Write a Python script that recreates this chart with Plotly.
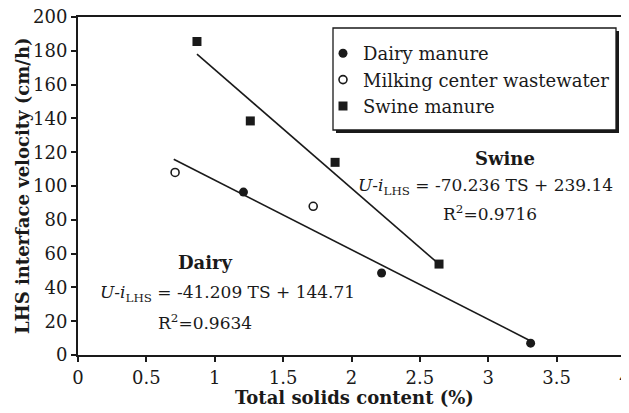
import plotly.graph_objects as go

# Data
dairy_x = [1.21, 2.22, 3.31]
dairy_y = [96.4, 48.5, 7.0]
milking_x = [0.71, 1.72]
milking_y = [108.0, 88.0]
swine_x = [0.87, 1.26, 1.88, 2.64]
swine_y = [185.5, 138.5, 114.0, 53.8]

dairy_fit_x = [0.70, 3.31]
dairy_slope, dairy_int = -41.209, 144.71
swine_fit_x = [0.87, 2.64]
swine_slope, swine_int = -70.236, 239.14

x_ticks = [0, 0.5, 1, 1.5, 2, 2.5, 3, 3.5, 4]
x_labels = ["0", "0.5", "1", "1.5", "2", "2.5", "3", "3.5", "4"]
y_ticks = [0, 20, 40, 60, 80, 100, 120, 140, 160, 180, 200]

FONT = "DejaVu Serif, serif"
INK = "#1a1a1a"
fig = go.Figure()

fig.add_trace(go.Scatter(x=dairy_fit_x, y=[dairy_slope * v + dairy_int for v in dairy_fit_x],
                         mode="lines", line=dict(color=INK, width=1.6), showlegend=False))
fig.add_trace(go.Scatter(x=swine_fit_x, y=[swine_slope * v + swine_int for v in swine_fit_x],
                         mode="lines", line=dict(color=INK, width=1.6), showlegend=False))

fig.add_trace(go.Scatter(x=dairy_x, y=dairy_y, mode="markers", name="Dairy manure",
                         marker=dict(symbol="circle", size=9, color=INK)))
fig.add_trace(go.Scatter(x=milking_x, y=milking_y, mode="markers", name="Milking center wastewater",
                         marker=dict(symbol="circle-open", size=8, color=INK, line=dict(width=1.6))))
fig.add_trace(go.Scatter(x=swine_x, y=swine_y, mode="markers", name="Swine manure",
                         marker=dict(symbol="square", size=9, color=INK)))

# page has an 8px body margin: figure is drawn at (8,8); work in page pixels
OFF = 8
L, R, T, B = 78, 625, 17, 355

def px(xp):
    return (xp - L) / (R - L)
def py(yp):
    return (B - yp) / (B - T)

ann_font = dict(family=FONT, size=17, color=INK)
bold_font = dict(family=FONT, size=18, color=INK)
annotations = [
    dict(x=3.12, y=116.5, text="<b>Swine</b>", font=bold_font),
    dict(x=2.98, y=99.5, text="<i>U</i>-<i>i</i><sub>LHS</sub> = -70.236 TS + 239.14", font=ann_font),
    dict(x=3.01, y=84, text="R<sup>2</sup>=0.9716", font=ann_font),
    dict(x=0.93, y=55, text="<b>Dairy</b>", font=bold_font),
    dict(x=1.09, y=36.5, text="<i>U</i>-<i>i</i><sub>LHS</sub> = -41.209 TS + 144.71", font=ann_font),
    dict(x=0.93, y=19.5, text="R<sup>2</sup>=0.9634", font=ann_font),
]
for a in annotations:
    a.update(xref="x", yref="y", showarrow=False, xanchor="center", yanchor="middle")

annotations.append(dict(xref="paper", yref="paper", x=px(354), y=py(397), text="<b>Total solids content (%)</b>",
                        showarrow=False, xanchor="center", yanchor="middle", font=bold_font))
annotations.append(dict(xref="paper", yref="paper", x=px(22), y=py(186), text="<b>LHS interface velocity (cm/h)</b>",
                        textangle=-90, showarrow=False, xanchor="center", yanchor="middle", font=bold_font))

shapes = [
    dict(type="rect", xref="paper", yref="paper", x0=px(336), x1=px(619), y0=py(133), y1=py(31),
         line=dict(width=0), fillcolor=INK, layer="below"),
    dict(type="rect", xref="paper", yref="paper", x0=px(333), x1=px(616), y0=py(130), y1=py(28),
         line=dict(width=1.3, color=INK), fillcolor="white", layer="below"),
]

tickfont = dict(family=FONT, size=18, color=INK)
fig.update_layout(
    width=629 - OFF, height=413 - OFF,
    margin=dict(l=L - OFF, r=629 - R, t=T - OFF, b=413 - B),
    paper_bgcolor="white", plot_bgcolor="white",
    font=dict(family=FONT, size=17, color=INK),
    showlegend=True,
    legend=dict(x=px(323), y=py(35), xanchor="left", yanchor="top",
                bgcolor="rgba(0,0,0,0)", borderwidth=0,
                font=dict(family=FONT, size=18, color=INK),
                itemwidth=30, tracegroupgap=0),
    annotations=annotations,
    shapes=shapes,
    xaxis=dict(range=[0, 4], tickvals=x_ticks, ticktext=x_labels, ticks="outside", ticklen=5,
               tickwidth=1.5, tickcolor=INK, showline=True, linecolor=INK, linewidth=2,
               mirror=True, showgrid=False, zeroline=False, automargin=False, tickfont=tickfont,
               ticklabeloverflow="allow"),
    yaxis=dict(range=[0, 200], tickvals=y_ticks, ticks="outside", ticklen=5,
               tickwidth=1.5, tickcolor=INK, showline=True, linecolor=INK, linewidth=2,
               mirror=True, showgrid=False, zeroline=False, automargin=False, tickfont=tickfont,
               ticklabeloverflow="allow"),
)

fig.write_html("out.html")
